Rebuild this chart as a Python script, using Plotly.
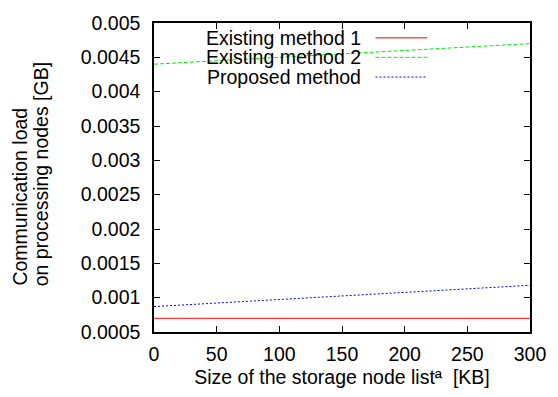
import plotly.graph_objects as go

x_kb = [0, 50, 100, 150, 200, 250, 300]
existing1 = [0.0007, 0.0007, 0.0007, 0.0007, 0.0007, 0.0007, 0.0007]
existing2 = [0.0044, 0.00445, 0.0045, 0.00455, 0.0046, 0.00465, 0.0047]
proposed = [0.00087, 0.000922, 0.000973, 0.001025, 0.001077, 0.001128, 0.00118]

names = ["Existing method 1", "Existing method 2", "Proposed method"]
colors = ["#ff0000", "#00ee00", "#0000ff"]
dashes = ["solid", "4px,2px", "2px,2px"]
series = [existing1, existing2, proposed]

y_ticks = [0.0005, 0.001, 0.0015, 0.002, 0.0025, 0.003, 0.0035, 0.004, 0.0045, 0.005]
y_ticktext = ["0.0005", "0.001", "0.0015", "0.002", "0.0025", "0.003", "0.0035", "0.004", "0.0045", "0.005"]
x_ticks = [0, 50, 100, 150, 200, 250, 300]
y_title_lines = ["Communication load", "on processing nodes [GB]"]

fig = go.Figure()
for n, c, d, s in zip(names, colors, dashes, series):
    fig.add_trace(go.Scatter(x=x_kb, y=s, mode="lines", name=n, showlegend=False,
                             line=dict(color=c, dash=d, width=1)))

font = dict(family="Liberation Sans, Arial, sans-serif", size=19.5, color="black")

# gnuplot-style legend: text right-aligned, sample line to the right
leg_y = [0.952, 0.889, 0.825]
for n, c, d, yy in zip(names, colors, dashes, leg_y):
    fig.add_annotation(xref="paper", yref="paper", x=0.557, y=yy, text=n,
                       showarrow=False, xanchor="right", yanchor="middle", font=font)
    fig.add_shape(type="line", xref="paper", yref="paper", x0=0.589, x1=0.727,
                  y0=yy, y1=yy, line=dict(color=c, dash=d, width=1))

# two-line y-axis title, right-justified (ends at same height)
for txt, xp in zip(y_title_lines, [-0.357, -0.302]):
    fig.add_annotation(xref="paper", yref="paper", x=xp, y=0.143, text=txt,
                       textangle=-90, showarrow=False, xanchor="center",
                       yanchor="bottom", font=font)

fig.update_layout(
    width=558, height=397,
    margin=dict(l=154, r=20, t=18, b=65),
    paper_bgcolor="white", plot_bgcolor="white",
    font=font,
    xaxis=dict(range=[0, 300], tickvals=x_ticks, ticks="inside", ticklen=6,
               tickwidth=1, tickcolor="black", showline=True, linecolor="black",
               linewidth=1.5, mirror="ticks", showgrid=False, zeroline=False,
               ticklabelstandoff=4,
               title=dict(text="Size of the storage node listª  [KB]", font=font, standoff=6)),
    yaxis=dict(range=[0.0005, 0.005], tickvals=y_ticks, ticktext=y_ticktext,
               ticks="inside", ticklen=6, tickwidth=1, tickcolor="black",
               showline=True, linecolor="black", linewidth=1.5, mirror="ticks",
               showgrid=False, zeroline=False, ticklabelstandoff=8),
)

fig.write_html("out.html")
